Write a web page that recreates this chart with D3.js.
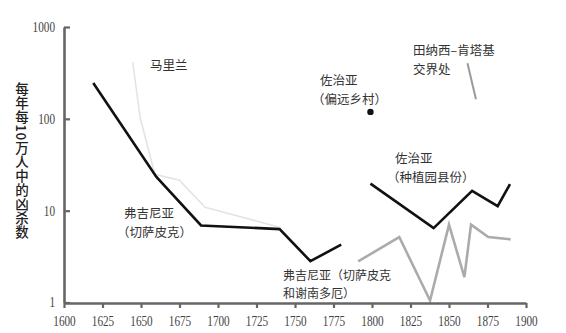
<!DOCTYPE html>
<html><head><meta charset="utf-8">
<script src="https://cdn.jsdelivr.net/npm/d3@7"></script>
<style>body{margin:0;background:#fff}</style>
</head><body>
<svg id="c" width="566" height="333"></svg>
<script>
// ---- data ----
const xTicks = [1600,1625,1650,1675,1700,1725,1750,1775,1800,1825,1850,1875,1900];
const yTicks = [1,10,100,1000];
const yLabel = "每年每10万人中的凶杀数";

const virginiaChesYears  = [1619,1660,1689,1740,1760,1780];
const virginiaChesValues = [245,23.3,6.9,6.3,2.82,4.26];

const marylandYears  = [1644.6,1649.4,1659,1675,1691.6,1740];
const marylandValues = [418,104,24.9,21.4,10.9,6.6];

const georgiaPlantYears  = [1799,1840,1865,1881.6,1889.6];
const georgiaPlantValues = [19.7,6.46,16.4,11.2,19.4];

const virginiaShenYears  = [1791,1817.7,1837.7,1850,1860,1864.3,1875.5,1890];
const virginiaShenValues = [2.8,5.16,1.05,7.04,1.89,7.04,5.16,4.87];

const tennKyYears  = [1862,1867.5];
const tennKyValues = [402,163];

const georgiaBackYear = 1799;
const georgiaBackValue = 119;

const notes = [
  {lines:["马里兰"], x:150, y:70},
  {lines:["弗吉尼亚","（切萨皮克）"], x:124, y:218, dx:[0,-7], lh:18.5},
  {lines:["佐治亚","（偏远乡村）"], x:320, y:85, dx:[0,-8], lh:18.5},
  {lines:["田纳西–肯塔基","交界处"], x:413, y:55, dx:[0,0], lh:18.5},
  {lines:["佐治亚","（种植园县份）"], x:395, y:163, dx:[0,-8], lh:18.5},
  {lines:["弗吉尼亚（切萨皮克","和谢南多厄）"], x:283, y:280, dx:[0,0], lh:18, fs:12},
];

// ---- chart ----
const svg = d3.select("#c");
const x = d3.scaleLinear().domain([1600,1900]).range([64,526]);
const y = d3.scaleLog().domain([1,1000]).range([302.5,27]);

const line = d3.line().x(d=>x(d[0])).y(d=>y(d[1]));
function series(years, vals, color, w){
  svg.append("path").datum(d3.zip(years, vals))
    .attr("d", line).attr("fill","none").attr("stroke",color)
    .attr("stroke-width",w).attr("stroke-linejoin","miter");
}
series(marylandYears, marylandValues, "#e4e4e4", 1.6);
series(virginiaShenYears, virginiaShenValues, "#ababab", 2.6);
series(tennKyYears, tennKyValues, "#9a9a9a", 2);
series(virginiaChesYears, virginiaChesValues, "#111", 2.6);
series(georgiaPlantYears, georgiaPlantValues, "#111", 2.6);

svg.append("circle").attr("cx", x(georgiaBackYear)).attr("cy", y(georgiaBackValue))
  .attr("r", 3.2).attr("fill","#111");

// axes
const yAxis = svg.append("g").attr("transform","translate(64,0)")
  .call(d3.axisLeft(y).tickValues(yTicks).tickFormat(d3.format("d"))
        .tickSizeInner(-6).tickSizeOuter(0).tickPadding(9));
const xAxis = svg.append("g").attr("transform","translate(0,303)")
  .call(d3.axisBottom(x).tickValues(xTicks).tickFormat(d3.format("d"))
        .tickSizeInner(5).tickSizeOuter(0).tickPadding(8));
[yAxis,xAxis].forEach(g=>{
  g.select(".domain").attr("stroke","#666").attr("stroke-width",2.6);
  g.selectAll(".tick line").attr("stroke","#666").attr("stroke-width",2.2);
  g.selectAll(".tick text").attr("fill","#444")
    .attr("font-family","'Liberation Serif', serif").attr("font-size",14)
    .each(function(){ const t=this.textContent;
      d3.select(this).attr("textLength", t.length*5.6).attr("lengthAdjust","spacingAndGlyphs"); });
});

// y label (vertical writing mode, single text)
svg.append("text").attr("x",22).attr("y",82)
  .attr("style","writing-mode: vertical-rl; letter-spacing: 0.6px;")
  .attr("font-family","'Noto Sans CJK SC', sans-serif").attr("font-size",13.5)
  .attr("font-weight",500).attr("fill","#222")
  .text(yLabel);

// annotations
const ng = svg.append("g").attr("font-family","'Noto Sans CJK SC', sans-serif")
  .attr("font-size",12.5).attr("fill","#333");
notes.forEach(n=>{
  const t = ng.append("text").attr("x",n.x).attr("y",n.y);
  if (n.fs) t.attr("font-size", n.fs);
  n.lines.forEach((s,i)=>{
    t.append("tspan").attr("x", n.x + (n.dx ? n.dx[i] : 0))
      .attr("dy", i===0 ? 0 : n.lh).text(s);
  });
});
</script>
</body></html>
